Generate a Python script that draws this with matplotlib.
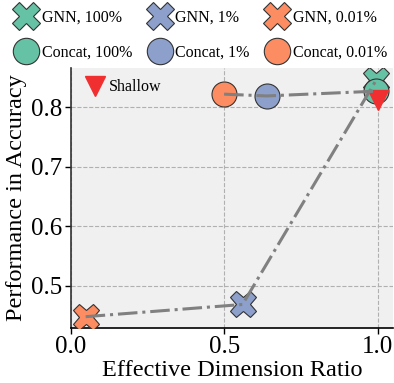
import matplotlib
matplotlib.use('Agg')
import matplotlib.pyplot as plt
from matplotlib.lines import Line2D

plt.rcParams['font.family'] = ['Liberation Serif', 'DejaVu Serif']
plt.rcParams['mathtext.fontset'] = 'stix'

# data
labels = ['100%', '1%', '0.01%']
colors = ['#66c2a5', '#8da0cb', '#fc8d62']
gnn_x = [0.995, 0.559, 0.048]
gnn_y = [0.846, 0.469, 0.4485]
concat_x = [0.993, 0.638, 0.499]
concat_y = [0.827, 0.819, 0.822]
shallow_x = [1.0]
shallow_y = [0.812]

fig = plt.figure(figsize=(3.94, 3.83), dpi=100)
ax = fig.add_axes([0.18, 0.1436, 0.818, 0.679])
ax.set_facecolor('#f0f0f0')
ax.grid(True, linestyle='--', color='#b0b0b0', linewidth=0.8)
ax.set_axisbelow(True)

# connecting lines (sorted by x)
ax.plot(gnn_x[::-1], gnn_y[::-1], linestyle='-.', color='gray', lw=2.2, zorder=4)
ax.plot(concat_x[::-1], concat_y[::-1], linestyle='-.', color='gray', lw=2.2, zorder=4)

for i in range(3):
    ax.plot(gnn_x[i], gnn_y[i], marker='X', ms=19, color=colors[i],
            mec='#333333', mew=0.8, linestyle='none', zorder=3)
    ax.plot(concat_x[i], concat_y[i], marker='o', ms=18, color=colors[i],
            mec='#333333', mew=0.8, linestyle='none', zorder=3)
sh, = ax.plot(shallow_x, shallow_y, marker='v', ms=15, color='#f03030',
              linestyle='none', zorder=3, label='Shallow')

ax.set_xlim(0, 1.05)
ax.set_ylim(0.4295, 0.866)
ax.set_xticks([0.0, 0.5, 1.0])
ax.set_yticks([0.5, 0.6, 0.7, 0.8])
ax.tick_params(labelsize=18, length=4, width=1, pad=2)
ax.set_xlabel('Effective Dimension Ratio', fontsize=17.5, labelpad=1)
ax.set_ylabel('Performance in Accuracy', fontsize=17.5, labelpad=3)
for s in ['top', 'right']:
    ax.spines[s].set_visible(False)
ax.spines['left'].set_color('#333333')
ax.spines['left'].set_linewidth(1.2)
ax.spines['bottom'].set_linewidth(1.2)

ax.legend(handles=[sh], loc='upper left', frameon=False, fontsize=11.5,
          handletextpad=0.1, borderaxespad=0.3, handlelength=1.6)

handles = []
for i in range(3):
    handles.append(Line2D([], [], marker='X', ms=20, color=colors[i], mec='#333333',
                          mew=0.8, linestyle='none', label='GNN, ' + labels[i]))
    handles.append(Line2D([], [], marker='o', ms=19, color=colors[i], mec='#333333',
                          mew=0.8, linestyle='none', label='Concat, ' + labels[i]))
fig.legend(handles=handles, loc='upper center', bbox_to_anchor=(0.505, 1.012), ncol=3,
           frameon=False, fontsize=11.5, handletextpad=0.0, columnspacing=0.8,
           labelspacing=1.2, handlelength=1.9)

fig.savefig('out.png', dpi=100)
